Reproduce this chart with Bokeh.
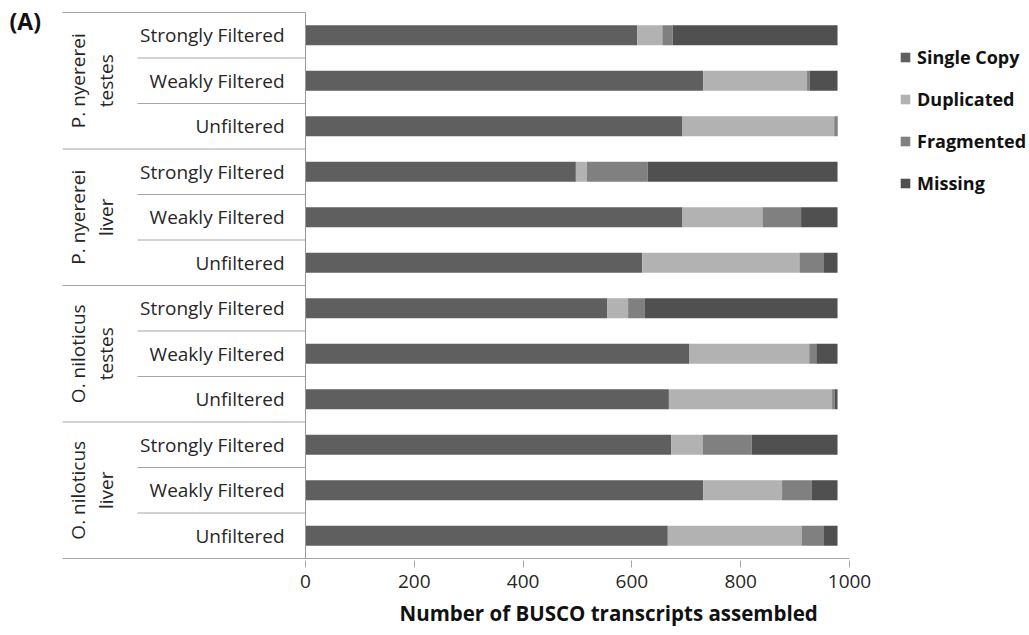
import math
from bokeh.plotting import figure
from bokeh.models import Range1d, FixedTicker, ColumnDataSource, Title
from bokeh.core.properties import value
from bokeh.embed import file_html
from bokeh.resources import INLINE

# ---------------- data ----------------
group_species = ["P. nyererei", "P. nyererei", "O. niloticus", "O. niloticus"]
group_tissue = ["testes", "liver", "testes", "liver"]
treatments = ["Strongly Filtered", "Weakly Filtered", "Unfiltered"]
series = ["Single Copy", "Duplicated", "Fragmented", "Missing"]
single_copy = [610, 731, 693, 497, 693, 619, 555, 705, 668, 672, 731, 666]
duplicated = [46, 191, 279, 20, 147, 289, 38, 221, 300, 58, 145, 246]
fragmented = [19, 5, 4, 112, 71, 44, 31, 13, 5, 90, 55, 40]
missing = [303, 51, 2, 349, 67, 26, 354, 39, 5, 158, 47, 26]
x_ticks = [0, 200, 400, 600, 800, 1000]
x_title = "Number of BUSCO transcripts assembled"

# ---------------- styles / layout ----------------
colors = ["#5f5f5f", "#b2b2b2", "#808080", "#505050"]
FONT = "Open Sans"
W, H = 1029, 635
PX = 0.544          # pixels per unit on x
ROW = 45.5          # pixels per row
AX0 = 305           # frame x (px) of value 0
AX1 = AX0 + 1000 * PX
TOP = 12            # px of top rule
n_groups = len(group_species)
n_t = len(treatments)
n_rows = n_groups * n_t
BOTTOM_BORDER = 75

x_start = -AX0 / PX
x_end = 1000 + (W - AX1) / PX
y_top = -0.5 - TOP / ROW
frame_h = H - BOTTOM_BORDER
y_bottom = y_top + frame_h / ROW

p = figure(width=W, height=H, x_range=Range1d(x_start, x_end),
           y_range=Range1d(y_bottom, y_top),
           output_backend="svg", toolbar_location=None,
           min_border_left=0, min_border_right=0, min_border_top=0,
           min_border_bottom=BOTTOM_BORDER)
p.outline_line_color = None
p.xgrid.visible = False
p.ygrid.visible = False
p.yaxis.visible = False
p.background_fill_color = "white"
p.border_fill_color = "white"

xa = p.xaxis[0]
xa.ticker = FixedTicker(ticks=x_ticks)
xa.axis_line_color = None
xa.major_tick_line_color = "#a6a6a6"
xa.major_tick_in = 0
xa.major_tick_out = 7
xa.minor_tick_line_color = None
xa.major_label_text_font = FONT
xa.major_label_text_font_size = "19px"
xa.major_label_text_color = "#262626"
xa.major_label_standoff = 7

title = Title(text=x_title, align="left", offset=399, text_font=FONT,
              text_font_size="20.5px", text_font_style="bold",
              text_color="#111111", standoff=12)
p.add_layout(title, "below")

# ---------------- bars ----------------
ys = list(range(n_rows))
source = ColumnDataSource(dict(y=ys, single_copy=single_copy, duplicated=duplicated,
                               fragmented=fragmented, missing=missing))
p.hbar_stack(["single_copy", "duplicated", "fragmented", "missing"], y="y",
             height=0.44, color=colors, line_color=None, source=source,
             legend_label=series)

# ---------------- separators ----------------
gl = "#a6a6a6"
inner_left = -(AX0 - 137) / PX
outer_left = -(AX0 - 62) / PX
x0s, y0s, x1s, y1s = [], [], [], []
for g in range(n_groups):
    top = g * n_t - 0.5
    x0s.append(outer_left); y0s.append(top); x1s.append(0); y1s.append(top)
    for k in range(1, n_t):
        yy = top + k
        x0s.append(inner_left); y0s.append(yy); x1s.append(0); y1s.append(yy)
# bottom rule continues as the x-axis line
x0s.append(outer_left); y0s.append(n_rows - 0.5); x1s.append(1000); y1s.append(n_rows - 0.5)
p.segment(x0=x0s, y0=y0s, x1=x1s, y1=y1s, line_color=gl, line_width=1)
p.segment(x0=[0], y0=[-0.5], x1=[0], y1=[n_rows - 0.5], line_color="#999999", line_width=1)

# ---------------- category labels ----------------
cat_text = [t for g in range(n_groups) for t in treatments]
p.text(x=[0] * n_rows, y=ys, text=cat_text, x_offset=-21,
       text_align="right", text_baseline="middle",
       text_font=value(FONT), text_font_size="19px", text_color="#262626")

group_y = [g * n_t + (n_t - 1) / 2 for g in range(n_groups)]
p.text(x=[0] * n_groups, y=group_y, text=group_species, x_offset=-228, angle=math.pi / 2,
       text_align="center", text_baseline="alphabetic",
       text_font=value(FONT), text_font_size="19px", text_color="#262626")
p.text(x=[0] * n_groups, y=group_y, text=group_tissue, x_offset=-200, angle=math.pi / 2,
       text_align="center", text_baseline="alphabetic",
       text_font=value(FONT), text_font_size="19px", text_color="#262626")

p.text(x=[0], y=[-0.5 + 8 / ROW], text=["(A)"], x_offset=-296,
       text_align="left", text_baseline="middle",
       text_font=value(FONT), text_font_size="23px", text_font_style="bold",
       text_color="#111111")

# ---------------- legend ----------------
lg = p.legend[0]
lg.location = (899, 365)
lg.orientation = "vertical"
lg.glyph_width = 12
lg.glyph_height = 12
lg.label_standoff = 6
lg.label_height = 20
lg.spacing = 18
lg.padding = 0
lg.margin = 0
lg.border_line_color = None
lg.background_fill_alpha = 0
lg.label_text_font = FONT
lg.label_text_font_size = "18px"
lg.label_text_font_style = "bold"
lg.label_text_color = "#111111"
lg.label_text_baseline = "middle"

open("out.html", "w").write(file_html(p, INLINE))
